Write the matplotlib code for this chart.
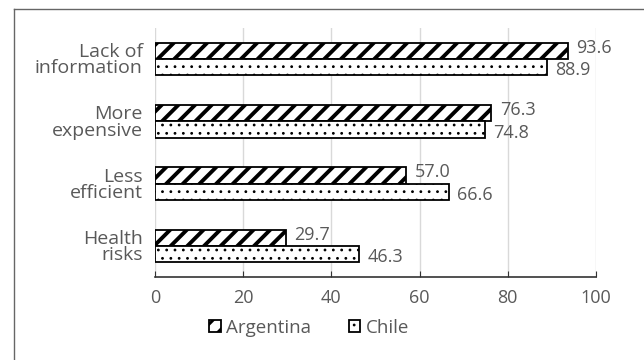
import matplotlib
matplotlib.use('Agg')
import matplotlib.pyplot as plt
import numpy as np
from matplotlib.lines import Line2D

plt.rcParams['font.family'] = ['Open Sans', 'DejaVu Sans']

categories = ['Lack of\ninformation', 'More\nexpensive', 'Less\nefficient', 'Health\nrisks']
argentina = [93.6, 76.3, 57.0, 29.7]
chile = [88.9, 74.8, 66.6, 46.3]
xticks = [0, 20, 40, 60, 80, 100]

grey = '#595959'
fs = 13

fig = plt.figure(figsize=(6.44, 3.6), dpi=100)
ax = fig.add_axes([0.241, 0.231, 0.684, 0.691])

y = np.arange(len(categories))
h = 0.26
b1 = ax.barh(y - h / 2, argentina, height=h, color='white', edgecolor='black',
             hatch='//', linewidth=1.3, label='Argentina', zorder=3)
b2 = ax.barh(y + h / 2, chile, height=h, color='white', edgecolor='black',
             hatch='..', linewidth=1.3, label='Chile', zorder=3)
for p in b1:
    p.set_hatch_linewidth(2.8)
for p in b2:
    p.set_hatch_linewidth(0.8)

for i in range(len(categories)):
    ax.text(argentina[i] + 1.9, y[i] - h / 2 - 0.05, '%.1f' % argentina[i],
            va='center', ha='left', fontsize=fs, color=grey)
    ax.text(chile[i] + 1.9, y[i] + h / 2 + 0.05, '%.1f' % chile[i],
            va='center', ha='left', fontsize=fs, color=grey)

ax.set_xlim(0, 100)
ax.set_ylim(len(categories) - 0.5, -0.5)
ax.set_xticks(xticks)
ax.set_yticks(y)
ax.set_yticklabels(categories, linespacing=0.88)
ax.tick_params(axis='x', direction='in', length=4, colors='#333333',
               labelcolor=grey, labelsize=fs, pad=9)
ax.tick_params(axis='y', length=0, labelcolor=grey, labelsize=14, pad=9)
ax.grid(axis='x', color='#d9d9d9', linewidth=1, zorder=0)
for s in ['top', 'right', 'left']:
    ax.spines[s].set_visible(False)
ax.spines['bottom'].set_color('#333333')
ax.spines['bottom'].set_linewidth(1.2)

leg = fig.legend(loc='center', bbox_to_anchor=(0.48, 0.089), ncol=2,
                 frameon=False, fontsize=13.5, handlelength=0.6, handleheight=0.6,
                 handletextpad=0.3, columnspacing=2.0)
for t in leg.get_texts():
    t.set_color(grey)
for hd in leg.legend_handles:
    hd.set_hatch_linewidth(2.0 if hd.get_hatch() == '//' else 0.8)

# outer frame
fig.add_artist(Line2D([14 / 644, 1], [1 - 9 / 360, 1 - 9 / 360],
                      transform=fig.transFigure, color='#666666', lw=1))
fig.add_artist(Line2D([14 / 644, 14 / 644], [0, 1 - 9 / 360],
                      transform=fig.transFigure, color='#666666', lw=1))

fig.savefig('out.png', dpi=100)
